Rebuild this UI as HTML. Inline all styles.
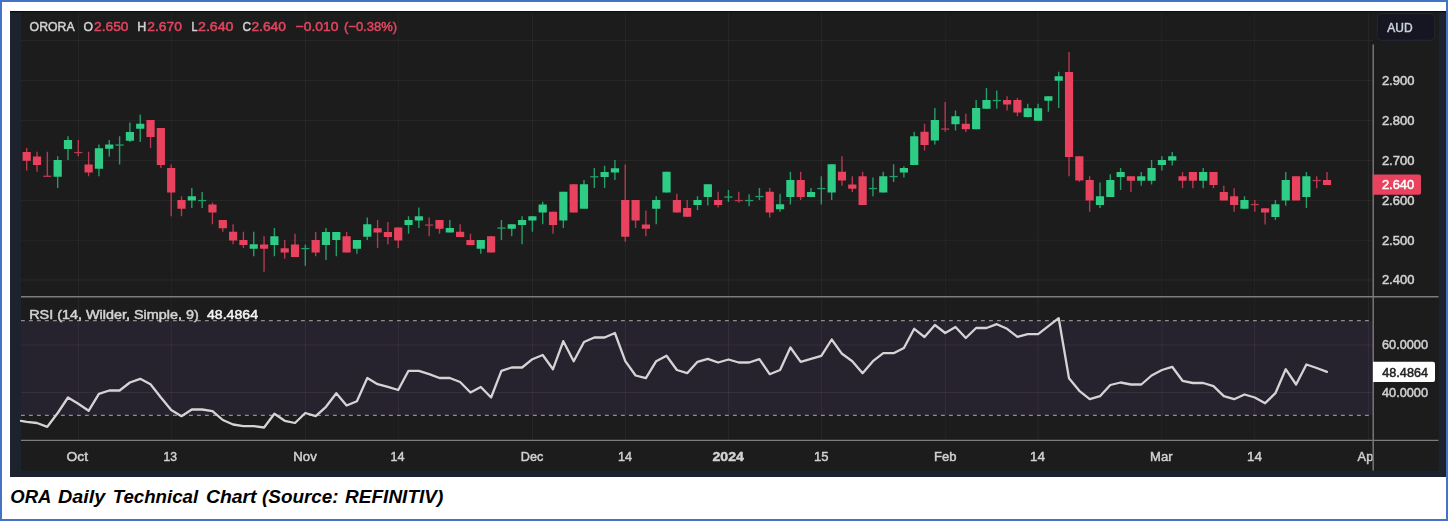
<!DOCTYPE html><html><head><meta charset="utf-8"><title>ORA Daily Technical Chart</title>
<style>html,body{margin:0;padding:0;background:#fff;}body{width:1448px;height:521px;overflow:hidden;font-family:"Liberation Sans",sans-serif;}svg{display:block;}text{font-family:"Liberation Sans",sans-serif;}</style></head><body>
<svg width="1448" height="521" viewBox="0 0 1448 521">
<rect x="0" y="0" width="1448" height="521" fill="#4472c4"/>
<rect x="2" y="2" width="1444" height="517" fill="#ffffff"/>
<defs><filter id="bl" x="-1%" y="-1%" width="102%" height="102%"><feGaussianBlur stdDeviation="0.45"/></filter></defs>
<g filter="url(#bl)">
<rect x="10" y="11" width="1436" height="466" fill="#1f222d"/>
<rect x="10" y="11" width="1436" height="1.3" fill="#101012"/>
<rect x="21" y="12.5" width="1417.5" height="458" fill="#1b1b1b"/>
<rect x="21" y="320.5" width="1352" height="95" fill="#28212f"/>
<g stroke="#ffffff" stroke-opacity="0.06" stroke-width="1" fill="none">
<line x1="21" y1="40.3" x2="1373" y2="40.3"/>
<line x1="21" y1="80.6" x2="1373" y2="80.6"/>
<line x1="21" y1="120.6" x2="1373" y2="120.6"/>
<line x1="21" y1="160.5" x2="1373" y2="160.5"/>
<line x1="21" y1="200.4" x2="1373" y2="200.4"/>
<line x1="21" y1="240.2" x2="1373" y2="240.2"/>
<line x1="21" y1="280.0" x2="1373" y2="280.0"/>
<line x1="78.3" y1="12.5" x2="78.3" y2="296"/>
<line x1="78.3" y1="298" x2="78.3" y2="440"/>
<line x1="171.2" y1="12.5" x2="171.2" y2="296"/>
<line x1="171.2" y1="298" x2="171.2" y2="440"/>
<line x1="305.3" y1="12.5" x2="305.3" y2="296"/>
<line x1="305.3" y1="298" x2="305.3" y2="440"/>
<line x1="398.2" y1="12.5" x2="398.2" y2="296"/>
<line x1="398.2" y1="298" x2="398.2" y2="440"/>
<line x1="532.4" y1="12.5" x2="532.4" y2="296"/>
<line x1="532.4" y1="298" x2="532.4" y2="440"/>
<line x1="625.3" y1="12.5" x2="625.3" y2="296"/>
<line x1="625.3" y1="298" x2="625.3" y2="440"/>
<line x1="728.5" y1="12.5" x2="728.5" y2="296"/>
<line x1="728.5" y1="298" x2="728.5" y2="440"/>
<line x1="821.3" y1="12.5" x2="821.3" y2="296"/>
<line x1="821.3" y1="298" x2="821.3" y2="440"/>
<line x1="945.2" y1="12.5" x2="945.2" y2="296"/>
<line x1="945.2" y1="298" x2="945.2" y2="440"/>
<line x1="1038.1" y1="12.5" x2="1038.1" y2="296"/>
<line x1="1038.1" y1="298" x2="1038.1" y2="440"/>
<line x1="1161.9" y1="12.5" x2="1161.9" y2="296"/>
<line x1="1161.9" y1="298" x2="1161.9" y2="440"/>
<line x1="1254.8" y1="12.5" x2="1254.8" y2="296"/>
<line x1="1254.8" y1="298" x2="1254.8" y2="440"/>
<line x1="1368.3" y1="12.5" x2="1368.3" y2="296"/>
<line x1="1368.3" y1="298" x2="1368.3" y2="440"/>
</g>
<g stroke="#ffffff" stroke-opacity="0.06" stroke-width="1" fill="none">
<line x1="21" y1="345" x2="1373" y2="345"/>
<line x1="21" y1="392.5" x2="1373" y2="392.5"/>
</g>
<g stroke="#8e8e8e" stroke-width="1.15" stroke-dasharray="3.8,4.2" fill="none">
<line x1="21" y1="320.6" x2="1373" y2="320.6"/><line x1="21" y1="415.3" x2="1373" y2="415.3"/></g>
<g stroke="#7d7d7d" stroke-width="1.4" fill="none">
<line x1="21" y1="296.7" x2="1438.5" y2="296.7"/>
<line x1="21" y1="440.4" x2="1438.5" y2="440.4"/>
<line x1="1373.2" y1="44.5" x2="1373.2" y2="470.5"/>
</g>
<g stroke-width="1.4"><line x1="26.70" y1="148.0" x2="26.70" y2="170.5" stroke="#b43a50"/><line x1="37.02" y1="151.75" x2="37.02" y2="171.75" stroke="#b43a50"/><line x1="47.34" y1="151.75" x2="47.34" y2="177.0" stroke="#b43a50"/><line x1="57.66" y1="156.25" x2="57.66" y2="188.0" stroke="#249f69"/><line x1="67.98" y1="136.25" x2="67.98" y2="160.0" stroke="#249f69"/><line x1="78.30" y1="140.0" x2="78.30" y2="156.25" stroke="#b43a50"/><line x1="88.62" y1="151.75" x2="88.62" y2="176.25" stroke="#b43a50"/><line x1="98.94" y1="144.5" x2="98.94" y2="176.25" stroke="#249f69"/><line x1="109.26" y1="140.0" x2="109.26" y2="156.5" stroke="#249f69"/><line x1="119.58" y1="136.25" x2="119.58" y2="164.5" stroke="#249f69"/><line x1="129.90" y1="122.5" x2="129.90" y2="142.0" stroke="#249f69"/><line x1="140.22" y1="114.5" x2="140.22" y2="142.0" stroke="#249f69"/><line x1="150.54" y1="120.0" x2="150.54" y2="148.0" stroke="#b43a50"/><line x1="160.86" y1="128.0" x2="160.86" y2="168.0" stroke="#b43a50"/><line x1="171.18" y1="164.5" x2="171.18" y2="216.25" stroke="#b43a50"/><line x1="181.50" y1="196.25" x2="181.50" y2="216.25" stroke="#b43a50"/><line x1="191.82" y1="188.0" x2="191.82" y2="208.0" stroke="#249f69"/><line x1="202.14" y1="192.0" x2="202.14" y2="208.0" stroke="#249f69"/><line x1="212.46" y1="202.5" x2="212.46" y2="224.25" stroke="#b43a50"/><line x1="222.78" y1="220.0" x2="222.78" y2="231.75" stroke="#b43a50"/><line x1="233.10" y1="224.25" x2="233.10" y2="244.25" stroke="#b43a50"/><line x1="243.42" y1="231.75" x2="243.42" y2="248.0" stroke="#b43a50"/><line x1="253.74" y1="231.75" x2="253.74" y2="256.25" stroke="#249f69"/><line x1="264.06" y1="236.25" x2="264.06" y2="271.75" stroke="#b43a50"/><line x1="274.38" y1="228.0" x2="274.38" y2="256.25" stroke="#249f69"/><line x1="284.70" y1="240.0" x2="284.70" y2="258.75" stroke="#b43a50"/><line x1="295.02" y1="233.75" x2="295.02" y2="257.0" stroke="#b43a50"/><line x1="305.34" y1="244.5" x2="305.34" y2="265.75" stroke="#249f69"/><line x1="315.66" y1="232.0" x2="315.66" y2="256.25" stroke="#b43a50"/><line x1="325.98" y1="228.0" x2="325.98" y2="260.0" stroke="#249f69"/><line x1="336.30" y1="232.0" x2="336.30" y2="256.25" stroke="#249f69"/><line x1="346.62" y1="232.0" x2="346.62" y2="252.5" stroke="#b43a50"/><line x1="356.94" y1="240.0" x2="356.94" y2="253.75" stroke="#249f69"/><line x1="367.26" y1="217.5" x2="367.26" y2="240.0" stroke="#249f69"/><line x1="377.58" y1="220.0" x2="377.58" y2="248.0" stroke="#b43a50"/><line x1="387.90" y1="222.0" x2="387.90" y2="244.5" stroke="#b43a50"/><line x1="398.22" y1="227.5" x2="398.22" y2="248.0" stroke="#b43a50"/><line x1="408.54" y1="216.25" x2="408.54" y2="233.75" stroke="#249f69"/><line x1="418.86" y1="207.5" x2="418.86" y2="228.0" stroke="#249f69"/><line x1="429.18" y1="217.5" x2="429.18" y2="236.25" stroke="#b43a50"/><line x1="439.50" y1="220.0" x2="439.50" y2="233.75" stroke="#b43a50"/><line x1="449.82" y1="220.0" x2="449.82" y2="232.5" stroke="#249f69"/><line x1="460.14" y1="224.25" x2="460.14" y2="237.0" stroke="#b43a50"/><line x1="470.46" y1="233.75" x2="470.46" y2="245.0" stroke="#b43a50"/><line x1="480.78" y1="240.0" x2="480.78" y2="253.75" stroke="#249f69"/><line x1="491.10" y1="236.25" x2="491.10" y2="252.5" stroke="#b43a50"/><line x1="501.42" y1="220.0" x2="501.42" y2="240.0" stroke="#249f69"/><line x1="511.74" y1="224.25" x2="511.74" y2="236.25" stroke="#249f69"/><line x1="522.06" y1="216.25" x2="522.06" y2="244.25" stroke="#249f69"/><line x1="532.38" y1="216.25" x2="532.38" y2="231.75" stroke="#249f69"/><line x1="542.70" y1="201.75" x2="542.70" y2="224.25" stroke="#249f69"/><line x1="553.02" y1="211.75" x2="553.02" y2="233.75" stroke="#b43a50"/><line x1="563.34" y1="191.75" x2="563.34" y2="228.0" stroke="#249f69"/><line x1="573.66" y1="184.25" x2="573.66" y2="212.5" stroke="#b43a50"/><line x1="583.98" y1="180.0" x2="583.98" y2="208.75" stroke="#249f69"/><line x1="594.30" y1="168.0" x2="594.30" y2="188.0" stroke="#249f69"/><line x1="604.62" y1="165.75" x2="604.62" y2="188.0" stroke="#249f69"/><line x1="614.94" y1="160.0" x2="614.94" y2="180.0" stroke="#249f69"/><line x1="625.26" y1="164.5" x2="625.26" y2="241.75" stroke="#b43a50"/><line x1="635.58" y1="200.0" x2="635.58" y2="228.0" stroke="#b43a50"/><line x1="645.90" y1="210.5" x2="645.90" y2="236.25" stroke="#b43a50"/><line x1="656.22" y1="196.25" x2="656.22" y2="224.25" stroke="#249f69"/><line x1="666.54" y1="171.75" x2="666.54" y2="192.5" stroke="#249f69"/><line x1="676.86" y1="193.75" x2="676.86" y2="212.5" stroke="#b43a50"/><line x1="687.18" y1="200.0" x2="687.18" y2="216.75" stroke="#b43a50"/><line x1="697.50" y1="196.25" x2="697.50" y2="210.0" stroke="#249f69"/><line x1="707.82" y1="184.25" x2="707.82" y2="205.5" stroke="#249f69"/><line x1="718.14" y1="191.75" x2="718.14" y2="207.5" stroke="#b43a50"/><line x1="728.46" y1="190.0" x2="728.46" y2="202.0" stroke="#249f69"/><line x1="738.78" y1="191.75" x2="738.78" y2="202.5" stroke="#b43a50"/><line x1="749.10" y1="194.25" x2="749.10" y2="206.25" stroke="#249f69"/><line x1="759.42" y1="188.0" x2="759.42" y2="200.0" stroke="#249f69"/><line x1="769.74" y1="188.0" x2="769.74" y2="217.5" stroke="#b43a50"/><line x1="780.06" y1="193.75" x2="780.06" y2="211.75" stroke="#249f69"/><line x1="790.38" y1="171.75" x2="790.38" y2="204.5" stroke="#249f69"/><line x1="800.70" y1="171.75" x2="800.70" y2="200.0" stroke="#b43a50"/><line x1="811.02" y1="188.0" x2="811.02" y2="197.0" stroke="#249f69"/><line x1="821.34" y1="176.25" x2="821.34" y2="204.5" stroke="#249f69"/><line x1="831.66" y1="164.25" x2="831.66" y2="200.0" stroke="#249f69"/><line x1="841.98" y1="156.25" x2="841.98" y2="185.75" stroke="#b43a50"/><line x1="852.30" y1="176.25" x2="852.30" y2="192.0" stroke="#b43a50"/><line x1="862.62" y1="171.75" x2="862.62" y2="205.0" stroke="#b43a50"/><line x1="872.94" y1="177.5" x2="872.94" y2="196.25" stroke="#249f69"/><line x1="883.26" y1="171.75" x2="883.26" y2="192.5" stroke="#249f69"/><line x1="893.58" y1="164.25" x2="893.58" y2="182.0" stroke="#249f69"/><line x1="903.90" y1="166.25" x2="903.90" y2="177.5" stroke="#249f69"/><line x1="914.22" y1="131.75" x2="914.22" y2="165.0" stroke="#249f69"/><line x1="924.54" y1="123.75" x2="924.54" y2="150.5" stroke="#b43a50"/><line x1="934.86" y1="108.0" x2="934.86" y2="144.5" stroke="#249f69"/><line x1="945.18" y1="102.0" x2="945.18" y2="131.75" stroke="#b43a50"/><line x1="955.50" y1="110.5" x2="955.50" y2="130.5" stroke="#249f69"/><line x1="965.82" y1="113.75" x2="965.82" y2="132.0" stroke="#b43a50"/><line x1="976.14" y1="100.0" x2="976.14" y2="129.25" stroke="#249f69"/><line x1="986.46" y1="88.0" x2="986.46" y2="108.75" stroke="#249f69"/><line x1="996.78" y1="90.5" x2="996.78" y2="108.75" stroke="#249f69"/><line x1="1007.10" y1="96.25" x2="1007.10" y2="110.5" stroke="#b43a50"/><line x1="1017.42" y1="98.0" x2="1017.42" y2="116.25" stroke="#b43a50"/><line x1="1027.74" y1="103.75" x2="1027.74" y2="117.5" stroke="#249f69"/><line x1="1038.06" y1="103.75" x2="1038.06" y2="120.75" stroke="#249f69"/><line x1="1048.38" y1="96.25" x2="1048.38" y2="111.75" stroke="#249f69"/><line x1="1058.70" y1="71.75" x2="1058.70" y2="108.0" stroke="#249f69"/><line x1="1069.02" y1="52.0" x2="1069.02" y2="176.25" stroke="#b43a50"/><line x1="1079.34" y1="156.25" x2="1079.34" y2="181.75" stroke="#b43a50"/><line x1="1089.66" y1="176.25" x2="1089.66" y2="211.75" stroke="#b43a50"/><line x1="1099.98" y1="182.5" x2="1099.98" y2="208.0" stroke="#249f69"/><line x1="1110.30" y1="174.25" x2="1110.30" y2="197.0" stroke="#249f69"/><line x1="1120.62" y1="168.0" x2="1120.62" y2="190.0" stroke="#249f69"/><line x1="1130.94" y1="176.25" x2="1130.94" y2="192.0" stroke="#b43a50"/><line x1="1141.26" y1="172.0" x2="1141.26" y2="185.75" stroke="#249f69"/><line x1="1151.58" y1="160.0" x2="1151.58" y2="184.5" stroke="#249f69"/><line x1="1161.90" y1="156.25" x2="1161.90" y2="170.5" stroke="#249f69"/><line x1="1172.22" y1="152.0" x2="1172.22" y2="165.5" stroke="#249f69"/><line x1="1182.54" y1="172.0" x2="1182.54" y2="188.25" stroke="#b43a50"/><line x1="1192.86" y1="172.0" x2="1192.86" y2="188.25" stroke="#b43a50"/><line x1="1203.18" y1="168.0" x2="1203.18" y2="188.25" stroke="#249f69"/><line x1="1213.50" y1="172.0" x2="1213.50" y2="188.25" stroke="#b43a50"/><line x1="1223.82" y1="185.75" x2="1223.82" y2="200.5" stroke="#b43a50"/><line x1="1234.14" y1="188.25" x2="1234.14" y2="211.75" stroke="#b43a50"/><line x1="1244.46" y1="196.25" x2="1244.46" y2="208.75" stroke="#249f69"/><line x1="1254.78" y1="200.0" x2="1254.78" y2="211.75" stroke="#b43a50"/><line x1="1265.10" y1="208.25" x2="1265.10" y2="224.5" stroke="#b43a50"/><line x1="1275.42" y1="200.0" x2="1275.42" y2="220.0" stroke="#249f69"/><line x1="1285.74" y1="172.0" x2="1285.74" y2="205.75" stroke="#249f69"/><line x1="1296.06" y1="176.25" x2="1296.06" y2="200.5" stroke="#b43a50"/><line x1="1306.38" y1="172.0" x2="1306.38" y2="208.0" stroke="#249f69"/><line x1="1316.70" y1="176.25" x2="1316.70" y2="188.25" stroke="#b43a50"/><line x1="1327.02" y1="172.0" x2="1327.02" y2="185.0" stroke="#b43a50"/></g>
<g><rect x="22.60" y="152.0" width="8.2" height="8.75" fill="#e8435f"/><rect x="32.92" y="156.5" width="8.2" height="8.50" fill="#e8435f"/><rect x="43.24" y="175.65" width="8.2" height="1.3" fill="#b43a50"/><rect x="53.56" y="160.0" width="8.2" height="16.75" fill="#2fcc85"/><rect x="63.88" y="140.0" width="8.2" height="9.00" fill="#2fcc85"/><rect x="74.20" y="151.9" width="8.2" height="1.3" fill="#b43a50"/><rect x="84.52" y="164.5" width="8.2" height="8.00" fill="#e8435f"/><rect x="94.84" y="148.25" width="8.2" height="20.50" fill="#2fcc85"/><rect x="105.16" y="144.5" width="8.2" height="4.25" fill="#2fcc85"/><rect x="115.48" y="144.4" width="8.2" height="1.3" fill="#249f69"/><rect x="125.80" y="132.0" width="8.2" height="8.75" fill="#2fcc85"/><rect x="136.12" y="123.75" width="8.2" height="5.00" fill="#2fcc85"/><rect x="146.44" y="120.0" width="8.2" height="17.00" fill="#e8435f"/><rect x="156.76" y="128.0" width="8.2" height="37.00" fill="#e8435f"/><rect x="167.08" y="168.0" width="8.2" height="24.50" fill="#e8435f"/><rect x="177.40" y="200.0" width="8.2" height="8.75" fill="#e8435f"/><rect x="187.72" y="196.25" width="8.2" height="4.25" fill="#2fcc85"/><rect x="198.04" y="199.9" width="8.2" height="1.3" fill="#249f69"/><rect x="208.36" y="204.5" width="8.2" height="8.00" fill="#e8435f"/><rect x="218.68" y="220.0" width="8.2" height="8.25" fill="#e8435f"/><rect x="229.00" y="231.75" width="8.2" height="8.75" fill="#e8435f"/><rect x="239.32" y="240.0" width="8.2" height="5.00" fill="#e8435f"/><rect x="249.64" y="244.25" width="8.2" height="4.50" fill="#2fcc85"/><rect x="259.96" y="244.5" width="8.2" height="4.25" fill="#e8435f"/><rect x="270.28" y="236.25" width="8.2" height="8.75" fill="#2fcc85"/><rect x="280.60" y="248.25" width="8.2" height="4.25" fill="#e8435f"/><rect x="290.92" y="244.5" width="8.2" height="12.50" fill="#e8435f"/><rect x="301.24" y="247.9" width="8.2" height="1.3" fill="#249f69"/><rect x="311.56" y="240.0" width="8.2" height="12.50" fill="#e8435f"/><rect x="321.88" y="232.0" width="8.2" height="13.00" fill="#2fcc85"/><rect x="332.20" y="232.0" width="8.2" height="8.00" fill="#2fcc85"/><rect x="342.52" y="236.25" width="8.2" height="16.25" fill="#e8435f"/><rect x="352.84" y="240.0" width="8.2" height="8.75" fill="#2fcc85"/><rect x="363.16" y="224.25" width="8.2" height="12.50" fill="#2fcc85"/><rect x="373.48" y="228.25" width="8.2" height="4.25" fill="#e8435f"/><rect x="383.80" y="232.0" width="8.2" height="5.00" fill="#e8435f"/><rect x="394.12" y="227.5" width="8.2" height="13.00" fill="#e8435f"/><rect x="404.44" y="220.0" width="8.2" height="5.00" fill="#2fcc85"/><rect x="414.76" y="216.25" width="8.2" height="4.25" fill="#2fcc85"/><rect x="425.08" y="224.4" width="8.2" height="1.3" fill="#b43a50"/><rect x="435.40" y="220.0" width="8.2" height="8.75" fill="#e8435f"/><rect x="445.72" y="228.0" width="8.2" height="4.50" fill="#2fcc85"/><rect x="456.04" y="231.75" width="8.2" height="5.25" fill="#e8435f"/><rect x="466.36" y="240.0" width="8.2" height="5.00" fill="#e8435f"/><rect x="476.68" y="240.0" width="8.2" height="8.75" fill="#2fcc85"/><rect x="487.00" y="236.25" width="8.2" height="16.25" fill="#e8435f"/><rect x="497.32" y="227.4" width="8.2" height="1.3" fill="#249f69"/><rect x="507.64" y="224.25" width="8.2" height="4.50" fill="#2fcc85"/><rect x="517.96" y="220.0" width="8.2" height="5.00" fill="#2fcc85"/><rect x="528.28" y="216.25" width="8.2" height="4.25" fill="#2fcc85"/><rect x="538.60" y="204.5" width="8.2" height="8.00" fill="#2fcc85"/><rect x="548.92" y="211.75" width="8.2" height="13.25" fill="#e8435f"/><rect x="559.24" y="191.75" width="8.2" height="28.75" fill="#2fcc85"/><rect x="569.56" y="184.25" width="8.2" height="28.25" fill="#e8435f"/><rect x="579.88" y="184.25" width="8.2" height="24.50" fill="#2fcc85"/><rect x="590.20" y="176.15" width="8.2" height="1.3" fill="#249f69"/><rect x="600.52" y="172.0" width="8.2" height="5.00" fill="#2fcc85"/><rect x="610.84" y="168.25" width="8.2" height="4.25" fill="#2fcc85"/><rect x="621.16" y="200.0" width="8.2" height="36.75" fill="#e8435f"/><rect x="631.48" y="200.0" width="8.2" height="20.50" fill="#e8435f"/><rect x="641.80" y="224.5" width="8.2" height="4.25" fill="#e8435f"/><rect x="652.12" y="200.0" width="8.2" height="8.75" fill="#2fcc85"/><rect x="662.44" y="171.75" width="8.2" height="20.75" fill="#2fcc85"/><rect x="672.76" y="200.0" width="8.2" height="12.50" fill="#e8435f"/><rect x="683.08" y="208.0" width="8.2" height="8.75" fill="#e8435f"/><rect x="693.40" y="200.0" width="8.2" height="5.00" fill="#2fcc85"/><rect x="703.72" y="184.25" width="8.2" height="12.75" fill="#2fcc85"/><rect x="714.04" y="200.0" width="8.2" height="5.00" fill="#e8435f"/><rect x="724.36" y="196.4" width="8.2" height="1.3" fill="#249f69"/><rect x="734.68" y="199.9" width="8.2" height="1.3" fill="#b43a50"/><rect x="745.00" y="199.9" width="8.2" height="1.3" fill="#249f69"/><rect x="755.32" y="195.9" width="8.2" height="1.3" fill="#249f69"/><rect x="765.64" y="191.75" width="8.2" height="20.75" fill="#e8435f"/><rect x="775.96" y="204.25" width="8.2" height="5.00" fill="#2fcc85"/><rect x="786.28" y="180.0" width="8.2" height="17.00" fill="#2fcc85"/><rect x="796.60" y="180.0" width="8.2" height="17.00" fill="#e8435f"/><rect x="806.92" y="192.0" width="8.2" height="5.00" fill="#2fcc85"/><rect x="817.24" y="187.9" width="8.2" height="1.3" fill="#249f69"/><rect x="827.56" y="164.25" width="8.2" height="28.25" fill="#2fcc85"/><rect x="837.88" y="171.75" width="8.2" height="8.75" fill="#e8435f"/><rect x="848.20" y="184.5" width="8.2" height="4.25" fill="#e8435f"/><rect x="858.52" y="176.25" width="8.2" height="28.75" fill="#e8435f"/><rect x="868.84" y="187.9" width="8.2" height="1.3" fill="#249f69"/><rect x="879.16" y="176.25" width="8.2" height="16.25" fill="#2fcc85"/><rect x="889.48" y="175.9" width="8.2" height="1.3" fill="#249f69"/><rect x="899.80" y="168.0" width="8.2" height="4.50" fill="#2fcc85"/><rect x="910.12" y="136.25" width="8.2" height="28.75" fill="#2fcc85"/><rect x="920.44" y="131.75" width="8.2" height="13.25" fill="#e8435f"/><rect x="930.76" y="120.0" width="8.2" height="20.50" fill="#2fcc85"/><rect x="941.08" y="128.4" width="8.2" height="1.3" fill="#b43a50"/><rect x="951.40" y="116.25" width="8.2" height="8.00" fill="#2fcc85"/><rect x="961.72" y="123.75" width="8.2" height="5.50" fill="#e8435f"/><rect x="972.04" y="108.0" width="8.2" height="21.25" fill="#2fcc85"/><rect x="982.36" y="100.0" width="8.2" height="8.75" fill="#2fcc85"/><rect x="992.68" y="99.9" width="8.2" height="1.3" fill="#249f69"/><rect x="1003.00" y="100.0" width="8.2" height="4.50" fill="#e8435f"/><rect x="1013.32" y="100.0" width="8.2" height="12.50" fill="#e8435f"/><rect x="1023.64" y="108.25" width="8.2" height="8.75" fill="#2fcc85"/><rect x="1033.96" y="108.25" width="8.2" height="12.50" fill="#2fcc85"/><rect x="1044.28" y="96.25" width="8.2" height="4.50" fill="#2fcc85"/><rect x="1054.60" y="76.25" width="8.2" height="4.50" fill="#2fcc85"/><rect x="1064.92" y="72.0" width="8.2" height="85.00" fill="#e8435f"/><rect x="1075.24" y="156.25" width="8.2" height="24.25" fill="#e8435f"/><rect x="1085.56" y="180.0" width="8.2" height="20.50" fill="#e8435f"/><rect x="1095.88" y="196.25" width="8.2" height="8.75" fill="#2fcc85"/><rect x="1106.20" y="180.0" width="8.2" height="17.00" fill="#2fcc85"/><rect x="1116.52" y="172.0" width="8.2" height="5.00" fill="#2fcc85"/><rect x="1126.84" y="176.25" width="8.2" height="4.50" fill="#e8435f"/><rect x="1137.16" y="176.25" width="8.2" height="4.50" fill="#2fcc85"/><rect x="1147.48" y="168.0" width="8.2" height="12.75" fill="#2fcc85"/><rect x="1157.80" y="160.0" width="8.2" height="5.00" fill="#2fcc85"/><rect x="1168.12" y="156.25" width="8.2" height="4.25" fill="#2fcc85"/><rect x="1178.44" y="176.25" width="8.2" height="4.50" fill="#e8435f"/><rect x="1188.76" y="172.0" width="8.2" height="8.75" fill="#e8435f"/><rect x="1199.08" y="172.0" width="8.2" height="8.75" fill="#2fcc85"/><rect x="1209.40" y="172.0" width="8.2" height="13.00" fill="#e8435f"/><rect x="1219.72" y="192.0" width="8.2" height="8.50" fill="#e8435f"/><rect x="1230.04" y="196.25" width="8.2" height="8.75" fill="#e8435f"/><rect x="1240.36" y="200.0" width="8.2" height="8.75" fill="#2fcc85"/><rect x="1250.68" y="203.9" width="8.2" height="1.3" fill="#b43a50"/><rect x="1261.00" y="208.25" width="8.2" height="4.25" fill="#e8435f"/><rect x="1271.32" y="204.25" width="8.2" height="12.75" fill="#2fcc85"/><rect x="1281.64" y="180.0" width="8.2" height="20.50" fill="#2fcc85"/><rect x="1291.96" y="176.25" width="8.2" height="24.25" fill="#e8435f"/><rect x="1302.28" y="176.25" width="8.2" height="20.75" fill="#2fcc85"/><rect x="1312.60" y="179.9" width="8.2" height="1.3" fill="#b43a50"/><rect x="1322.92" y="180.0" width="8.2" height="5.00" fill="#e8435f"/></g>
<polyline fill="none" stroke="#d4d4d4" stroke-width="2.3" stroke-linejoin="round" stroke-linecap="round" points="21.0,420.8 26.7,421.8 37.0,423.0 47.3,426.8 57.7,413.0 68.0,397.5 78.3,403.8 88.6,410.8 98.9,393.8 109.3,390.5 119.6,390.5 129.9,382.5 140.2,378.8 150.5,384.2 160.9,397.5 171.2,410.0 181.5,416.2 191.8,409.5 202.1,409.5 212.5,411.2 222.8,420.0 233.1,424.5 243.4,426.2 253.7,426.2 264.1,427.5 274.4,413.8 284.7,420.8 295.0,423.0 305.3,413.0 315.7,416.2 326.0,406.8 336.3,393.2 346.6,405.5 356.9,401.2 367.3,378.0 377.6,384.2 387.9,386.8 398.2,390.0 408.5,370.8 418.9,370.8 429.2,374.2 439.5,378.0 449.8,378.0 460.1,382.0 470.5,392.5 480.8,387.0 491.1,397.5 501.4,370.8 511.7,367.5 522.1,367.5 532.4,359.2 542.7,355.0 553.0,369.2 563.3,341.2 573.7,361.2 584.0,342.0 594.3,337.5 604.6,337.5 614.9,333.0 625.3,361.2 635.6,375.5 645.9,378.2 656.2,361.2 666.5,355.8 676.9,370.0 687.2,373.2 697.5,361.8 707.8,358.8 718.1,362.5 728.5,359.5 738.8,362.5 749.1,362.5 759.4,359.2 769.7,374.2 780.1,370.0 790.4,347.5 800.7,361.8 811.0,358.8 821.3,355.8 831.7,339.5 842.0,353.8 852.3,361.2 862.6,373.2 872.9,361.2 883.3,353.2 893.6,353.2 903.9,348.0 914.2,328.8 924.5,337.0 934.9,325.0 945.2,333.0 955.5,327.0 965.8,338.0 976.1,328.0 986.5,328.0 996.8,324.2 1007.1,328.8 1017.4,336.8 1027.7,334.2 1038.1,334.2 1048.4,326.2 1058.7,318.2 1069.0,378.2 1079.3,390.8 1089.7,399.2 1100.0,396.2 1110.3,385.0 1120.6,382.5 1130.9,384.5 1141.3,384.5 1151.6,375.5 1161.9,370.0 1172.2,366.8 1182.5,380.8 1192.9,383.0 1203.2,383.0 1213.5,386.2 1223.8,396.2 1234.1,399.2 1244.5,394.5 1254.8,397.5 1265.1,403.2 1275.4,393.2 1285.7,369.2 1296.1,384.5 1306.4,364.5 1316.7,368.0 1327.0,371.8"/>
<text x="29.6" y="30.8" textLength="45" lengthAdjust="spacingAndGlyphs" font-size="12.8" font-weight="normal" font-style="normal" fill="#d2d2d4" stroke="#d2d2d4" stroke-width="0.5" text-anchor="start">ORORA</text>
<text x="83.5" y="30.8" textLength="9.5" lengthAdjust="spacingAndGlyphs" font-size="12.8" font-weight="normal" font-style="normal" fill="#d2d2d4" stroke="#d2d2d4" stroke-width="0.5" text-anchor="start">O</text>
<text x="94" y="30.8" textLength="34.5" lengthAdjust="spacingAndGlyphs" font-size="12.8" font-weight="normal" font-style="normal" fill="#e0455f" stroke="#e0455f" stroke-width="0.5" text-anchor="start">2.650</text>
<text x="137.3" y="30.8" textLength="9" lengthAdjust="spacingAndGlyphs" font-size="12.8" font-weight="normal" font-style="normal" fill="#d2d2d4" stroke="#d2d2d4" stroke-width="0.5" text-anchor="start">H</text>
<text x="147.3" y="30.8" textLength="34.7" lengthAdjust="spacingAndGlyphs" font-size="12.8" font-weight="normal" font-style="normal" fill="#e0455f" stroke="#e0455f" stroke-width="0.5" text-anchor="start">2.670</text>
<text x="191.5" y="30.8" textLength="6" lengthAdjust="spacingAndGlyphs" font-size="12.8" font-weight="normal" font-style="normal" fill="#d2d2d4" stroke="#d2d2d4" stroke-width="0.5" text-anchor="start">L</text>
<text x="198" y="30.8" textLength="35.5" lengthAdjust="spacingAndGlyphs" font-size="12.8" font-weight="normal" font-style="normal" fill="#e0455f" stroke="#e0455f" stroke-width="0.5" text-anchor="start">2.640</text>
<text x="242.6" y="30.8" textLength="8.5" lengthAdjust="spacingAndGlyphs" font-size="12.8" font-weight="normal" font-style="normal" fill="#d2d2d4" stroke="#d2d2d4" stroke-width="0.5" text-anchor="start">C</text>
<text x="251.4" y="30.8" textLength="34.6" lengthAdjust="spacingAndGlyphs" font-size="12.8" font-weight="normal" font-style="normal" fill="#e0455f" stroke="#e0455f" stroke-width="0.5" text-anchor="start">2.640</text>
<text x="295.6" y="30.8" textLength="42.8" lengthAdjust="spacingAndGlyphs" font-size="12.8" font-weight="normal" font-style="normal" fill="#e0455f" stroke="#e0455f" stroke-width="0.5" text-anchor="start">−0.010</text>
<text x="344" y="30.8" textLength="53" lengthAdjust="spacingAndGlyphs" font-size="12.8" font-weight="normal" font-style="normal" fill="#e0455f" stroke="#e0455f" stroke-width="0.5" text-anchor="start">(−0.38%)</text>
<text x="29.2" y="318.6" textLength="169.5" lengthAdjust="spacingAndGlyphs" font-size="12.8" font-weight="normal" font-style="normal" fill="#d2d2d4" stroke="#d2d2d4" stroke-width="0.5" text-anchor="start">RSI (14, Wilder, Simple, 9)</text>
<text x="207" y="318.6" textLength="51" lengthAdjust="spacingAndGlyphs" font-size="12.8" font-weight="normal" font-style="normal" fill="#f4f4f4" stroke="#f4f4f4" stroke-width="0.5" text-anchor="start">48.4864</text>
<rect x="1377.2" y="13.7" width="57.6" height="26.6" rx="4.5" fill="#131720" stroke="#262932" stroke-width="1"/>
<text x="1387.3" y="32.3" textLength="25.3" lengthAdjust="spacingAndGlyphs" font-size="13" font-weight="normal" font-style="normal" fill="#cfd2de" stroke="#cfd2de" stroke-width="0.5" text-anchor="start">AUD</text>
<text x="1381.9" y="84.8" textLength="32.5" lengthAdjust="spacingAndGlyphs" font-size="12.8" font-weight="normal" font-style="normal" fill="#d2d2d4" stroke="#d2d2d4" stroke-width="0.5" text-anchor="start">2.900</text>
<text x="1381.9" y="125.10000000000001" textLength="32.5" lengthAdjust="spacingAndGlyphs" font-size="12.8" font-weight="normal" font-style="normal" fill="#d2d2d4" stroke="#d2d2d4" stroke-width="0.5" text-anchor="start">2.800</text>
<text x="1381.9" y="165.0" textLength="32.5" lengthAdjust="spacingAndGlyphs" font-size="12.8" font-weight="normal" font-style="normal" fill="#d2d2d4" stroke="#d2d2d4" stroke-width="0.5" text-anchor="start">2.700</text>
<text x="1381.9" y="204.7" textLength="32.5" lengthAdjust="spacingAndGlyphs" font-size="12.8" font-weight="normal" font-style="normal" fill="#d2d2d4" stroke="#d2d2d4" stroke-width="0.5" text-anchor="start">2.600</text>
<text x="1381.9" y="244.7" textLength="32.5" lengthAdjust="spacingAndGlyphs" font-size="12.8" font-weight="normal" font-style="normal" fill="#d2d2d4" stroke="#d2d2d4" stroke-width="0.5" text-anchor="start">2.500</text>
<text x="1381.9" y="284.2" textLength="32.5" lengthAdjust="spacingAndGlyphs" font-size="12.8" font-weight="normal" font-style="normal" fill="#d2d2d4" stroke="#d2d2d4" stroke-width="0.5" text-anchor="start">2.400</text>
<path d="M1372.7 174.6 H1419 a2 2 0 0 1 2 2 V192.7 a2 2 0 0 1 -2 2 H1372.7 Z" fill="#e8435f"/>
<text x="1381.9" y="189.4" textLength="32.3" lengthAdjust="spacingAndGlyphs" font-size="12.8" font-weight="normal" font-style="normal" fill="#ffffff" stroke="#ffffff" stroke-width="0.5" text-anchor="start">2.640</text>
<text x="1382" y="349.2" textLength="46" lengthAdjust="spacingAndGlyphs" font-size="12.8" font-weight="normal" font-style="normal" fill="#d2d2d4" stroke="#d2d2d4" stroke-width="0.5" text-anchor="start">60.0000</text>
<text x="1382" y="396.8" textLength="46" lengthAdjust="spacingAndGlyphs" font-size="12.8" font-weight="normal" font-style="normal" fill="#d2d2d4" stroke="#d2d2d4" stroke-width="0.5" text-anchor="start">40.0000</text>
<path d="M1373 361.8 H1433 a2 2 0 0 1 2 2 V379.9 a2 2 0 0 1 -2 2 H1373 Z" fill="#ffffff"/>
<text x="1382.3" y="376.5" textLength="45.7" lengthAdjust="spacingAndGlyphs" font-size="12.8" font-weight="normal" font-style="normal" fill="#222222" stroke="#222222" stroke-width="0.5" text-anchor="start">48.4864</text>
<text x="66.5" y="461" textLength="21.5" lengthAdjust="spacingAndGlyphs" font-size="12.8" font-weight="normal" fill="#d2d2d4" stroke="#d2d2d4" stroke-width="0.45">Oct</text>
<text x="163.5" y="461" textLength="13.5" lengthAdjust="spacingAndGlyphs" font-size="12.8" font-weight="normal" fill="#d2d2d4" stroke="#d2d2d4" stroke-width="0.45">13</text>
<text x="293.25" y="461" textLength="23.5" lengthAdjust="spacingAndGlyphs" font-size="12.8" font-weight="normal" fill="#d2d2d4" stroke="#d2d2d4" stroke-width="0.45">Nov</text>
<text x="390.5" y="461" textLength="14" lengthAdjust="spacingAndGlyphs" font-size="12.8" font-weight="normal" fill="#d2d2d4" stroke="#d2d2d4" stroke-width="0.45">14</text>
<text x="520.75" y="461" textLength="22.5" lengthAdjust="spacingAndGlyphs" font-size="12.8" font-weight="normal" fill="#d2d2d4" stroke="#d2d2d4" stroke-width="0.45">Dec</text>
<text x="618.0" y="461" textLength="14" lengthAdjust="spacingAndGlyphs" font-size="12.8" font-weight="normal" fill="#d2d2d4" stroke="#d2d2d4" stroke-width="0.45">14</text>
<text x="712.5" y="461" textLength="31.5" lengthAdjust="spacingAndGlyphs" font-size="12.8" font-weight="bold" fill="#d2d2d4" stroke="#d2d2d4" stroke-width="0.45">2024</text>
<text x="814.0" y="461" textLength="14.5" lengthAdjust="spacingAndGlyphs" font-size="12.8" font-weight="normal" fill="#d2d2d4" stroke="#d2d2d4" stroke-width="0.45">15</text>
<text x="934.0" y="461" textLength="22.5" lengthAdjust="spacingAndGlyphs" font-size="12.8" font-weight="normal" fill="#d2d2d4" stroke="#d2d2d4" stroke-width="0.45">Feb</text>
<text x="1030.0" y="461" textLength="15" lengthAdjust="spacingAndGlyphs" font-size="12.8" font-weight="normal" fill="#d2d2d4" stroke="#d2d2d4" stroke-width="0.45">14</text>
<text x="1150.0" y="461" textLength="22.5" lengthAdjust="spacingAndGlyphs" font-size="12.8" font-weight="normal" fill="#d2d2d4" stroke="#d2d2d4" stroke-width="0.45">Mar</text>
<text x="1247.0" y="461" textLength="15" lengthAdjust="spacingAndGlyphs" font-size="12.8" font-weight="normal" fill="#d2d2d4" stroke="#d2d2d4" stroke-width="0.45">14</text>
<clipPath id="cl"><rect x="1300" y="442" width="72.5" height="28"/></clipPath>
<text x="1357.6" y="461" font-size="12.8" fill="#d2d2d4" stroke="#d2d2d4" stroke-width="0.45" clip-path="url(#cl)">Apr</text>
</g>
<text x="10.3" y="503.2" textLength="41.1" lengthAdjust="spacingAndGlyphs" font-size="18.8" font-weight="bold" font-style="italic" fill="#000">ORA</text>
<text x="58" y="503.2" textLength="47.3" lengthAdjust="spacingAndGlyphs" font-size="18.8" font-weight="bold" font-style="italic" fill="#000">Daily</text>
<text x="112.7" y="503.2" textLength="85.4" lengthAdjust="spacingAndGlyphs" font-size="18.8" font-weight="bold" font-style="italic" fill="#000">Technical</text>
<text x="205.9" y="503.2" textLength="50.7" lengthAdjust="spacingAndGlyphs" font-size="18.8" font-weight="bold" font-style="italic" fill="#000">Chart</text>
<text x="262" y="503.2" textLength="76.6" lengthAdjust="spacingAndGlyphs" font-size="18.8" font-weight="bold" font-style="italic" fill="#000">(Source:</text>
<text x="345.1" y="503.2" textLength="98.2" lengthAdjust="spacingAndGlyphs" font-size="18.8" font-weight="bold" font-style="italic" fill="#000">REFINITIV)</text>
</svg></body></html>
